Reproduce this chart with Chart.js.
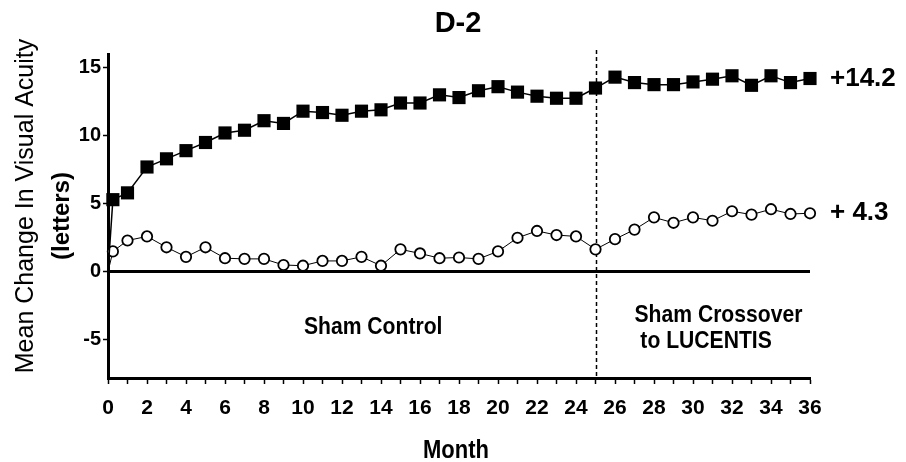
<!DOCTYPE html>
<html>
<head>
<meta charset="utf-8">
<title>D-2 Mean Change in Visual Acuity</title>
<script src="https://cdn.jsdelivr.net/npm/chart.js@4/dist/chart.umd.min.js"></script>
<style>
  html, body { margin: 0; padding: 0; background: #fff; }
  #wrap { width: 906px; height: 462px; position: relative; }
</style>
</head>
<body>
<div id="wrap"><canvas id="chart"></canvas></div>
<script>
// Study months (week 1 shown as 0.25)
const months = [0, 0.25, 1, 2, 3, 4, 5, 6, 7, 8, 9, 10, 11, 12, 13, 14, 15, 16, 17, 18,
  19, 20, 21, 22, 23, 24, 25, 26, 27, 28, 29, 30, 31, 32, 33, 34, 35, 36];

// Mean change in letters, LUCENTIS arm (filled squares)
const lucentisArm = [0, 5.3, 5.8, 7.7, 8.3, 8.9, 9.5, 10.2, 10.4, 11.1, 10.9, 11.8, 11.7, 11.5,
  11.8, 11.9, 12.4, 12.4, 13.0, 12.8, 13.3, 13.6, 13.2, 12.9, 12.75, 12.75, 13.5, 14.3, 13.9,
  13.75, 13.75, 13.95, 14.15, 14.4, 13.7, 14.4, 13.9, 14.2];

// Mean change in letters, sham arm crossing over at month 25 (open circles)
const shamArm = [0, 1.5, 2.3, 2.6, 1.8, 1.1, 1.8, 1.0, 0.95, 0.95, 0.5, 0.45, 0.8, 0.8, 1.1,
  0.45, 1.65, 1.35, 1.0, 1.05, 0.95, 1.5, 2.5, 3.0, 2.7, 2.6, 1.65, 2.4, 3.1, 4.0, 3.6, 4.0,
  3.75, 4.45, 4.2, 4.6, 4.25, 4.3];

const yTickValues = [-5, 0, 5, 10, 15];
const xTickValues = [0, 1, 2, 3, 4, 5, 6, 7, 8, 9, 10, 11, 12, 13, 14, 15, 16, 17, 18, 19,
  20, 21, 22, 23, 24, 25, 26, 27, 28, 29, 30, 31, 32, 33, 34, 35, 36];
const crossoverMonth = 25;

const SANS = "'Liberation Sans', Arial, Helvetica, sans-serif";

const toPoints = (vals) => vals.map((v, i) => ({ x: months[i], y: v }));
// baseline point at month 0 carries no marker
const markerSize = (r) => (c) => (c.dataIndex === 0 ? 0 : r);

// draw text squeezed horizontally (narrow face look)
function narrowText(ctx, text, x, y, squeeze, align) {
  ctx.save();
  ctx.translate(x, y);
  ctx.scale(squeeze, 1);
  ctx.textAlign = align;
  ctx.fillText(text, 0, 0);
  ctx.restore();
}

// Texts and the crossover divider drawn around the plot
const decorations = {
  id: 'decorations',
  beforeDatasetsDraw(chart) {
    const { ctx, chartArea, scales: { x } } = chart;
    const px = Math.round(x.getPixelForValue(crossoverMonth)) + 0.5;
    ctx.save();
    ctx.strokeStyle = '#000';
    ctx.lineWidth = 1.5;
    ctx.setLineDash([4, 3]);
    ctx.beginPath();
    ctx.moveTo(px, chartArea.top - 4);
    ctx.lineTo(px, chartArea.bottom);
    ctx.stroke();
    ctx.restore();
  },
  afterDraw(chart) {
    const { ctx, chartArea, scales: { x, y } } = chart;
    ctx.save();
    ctx.fillStyle = '#000';
    ctx.textAlign = 'center';
    ctx.textBaseline = 'middle';

    // chart title
    ctx.font = 'bold 29px ' + SANS;
    ctx.fillText('D-2', 458, 24);

    // y-axis title, two rotated lines
    ctx.save();
    ctx.translate(26, 206);
    ctx.rotate(-Math.PI / 2);
    ctx.font = '25px ' + SANS;
    ctx.fillText('Mean Change In Visual Acuity', 0, 0);
    ctx.restore();
    ctx.save();
    ctx.translate(62, 216);
    ctx.rotate(-Math.PI / 2);
    ctx.font = 'bold 24px ' + SANS;
    ctx.fillText('(letters)', 0, 0);
    ctx.restore();

    // x-axis title
    ctx.font = 'bold 25px ' + SANS;
    narrowText(ctx, 'Month', (chartArea.left + chartArea.right) / 2 - 3, 451, 0.88, 'center');

    // period labels
    ctx.font = 'bold 24px ' + SANS;
    narrowText(ctx, 'Sham Control', x.getPixelForValue(13.6), y.getPixelForValue(-4.1), 0.88, 'center');
    narrowText(ctx, 'Sham Crossover', x.getPixelForValue(27.0), y.getPixelForValue(-3.2), 0.88, 'left');
    narrowText(ctx, 'to LUCENTIS', x.getPixelForValue(27.3), y.getPixelForValue(-5.1), 0.88, 'left');

    // end-of-study values
    const lastTreated = lucentisArm[lucentisArm.length - 1];
    const lastSham = shamArm[shamArm.length - 1];
    ctx.textAlign = 'left';
    ctx.font = 'bold 26px ' + SANS;
    ctx.fillText('+' + lastTreated.toFixed(1), 830, y.getPixelForValue(lastTreated));
    ctx.fillText('+ ' + lastSham.toFixed(1), 830, y.getPixelForValue(lastSham));
    ctx.restore();
  }
};

new Chart(document.getElementById('chart'), {
  type: 'line',
  data: {
    datasets: [
      {
        label: 'LUCENTIS',
        data: toPoints(lucentisArm),
        borderColor: '#000',
        borderWidth: 1.5,
        backgroundColor: '#000',
        pointStyle: 'rect',
        pointRadius: markerSize(9.3),
        pointBorderWidth: 0,
        pointBackgroundColor: '#000',
        tension: 0,
        clip: false
      },
      {
        label: 'Sham',
        data: toPoints(shamArm),
        borderColor: '#000',
        borderWidth: 1,
        pointStyle: 'circle',
        pointRadius: markerSize(5.2),
        pointBorderWidth: 1.8,
        pointBorderColor: '#000',
        pointBackgroundColor: '#fff',
        tension: 0,
        clip: false
      }
    ]
  },
  options: {
    responsive: true,
    maintainAspectRatio: false,
    animation: false,
    events: [],
    layout: { padding: { top: 54, right: 96, bottom: 0, left: 0 } },
    plugins: {
      legend: { display: false },
      tooltip: { enabled: false },
      title: { display: false }
    },
    scales: {
      x: {
        type: 'linear',
        min: 0,
        max: 36,
        afterFit: (scale) => { scale.height = 84; },
        afterBuildTicks: (scale) => { scale.ticks = xTickValues.map(v => ({ value: v })); },
        border: { color: '#000', width: 3 },
        grid: {
          drawOnChartArea: false,
          drawTicks: true,
          tickLength: 6,
          tickWidth: 1.5,
          tickColor: '#000'
        },
        ticks: {
          autoSkip: false,
          maxRotation: 0,
          padding: 12,
          color: '#000',
          font: { family: SANS, size: 21, weight: 'bold' },
          callback: (v) => (v % 2 === 0 ? String(v) : '')
        }
      },
      y: {
        min: -7.8,
        max: 16,
        afterFit: (scale) => { scale.width = 108; },
        afterBuildTicks: (scale) => { scale.ticks = yTickValues.map(v => ({ value: v })); },
        border: { color: '#000', width: 3 },
        grid: {
          color: (c) => (c.tick && c.tick.value === 0 ? '#000' : 'rgba(0,0,0,0)'),
          lineWidth: (c) => (c.tick && c.tick.value === 0 ? 3 : 1),
          drawTicks: true,
          tickLength: 5,
          tickWidth: 1.5,
          tickColor: '#000'
        },
        ticks: {
          padding: 2,
          color: '#000',
          font: { family: SANS, size: 20, weight: 'bold' }
        }
      }
    }
  },
  plugins: [decorations]
});
</script>
</body>
</html>
